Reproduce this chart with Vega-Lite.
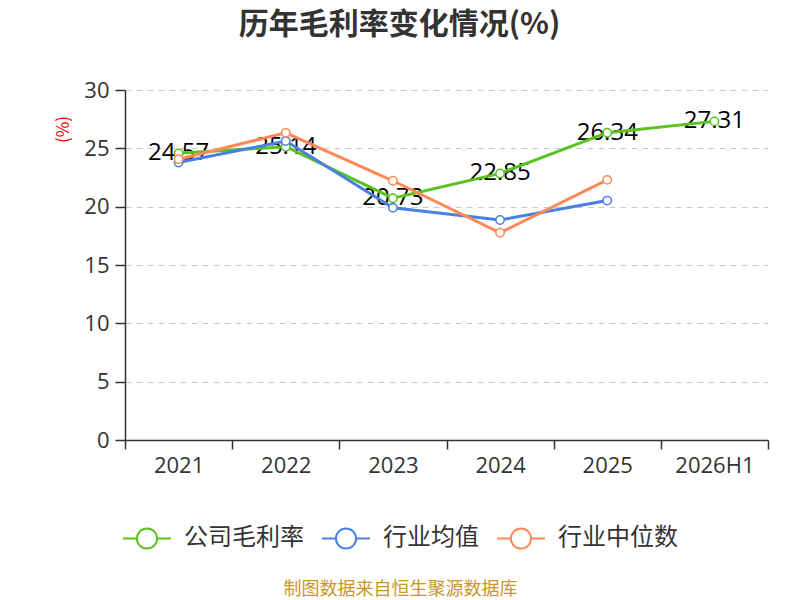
{
  "$schema": "https://vega.github.io/schema/vega-lite/v6.json",
  "width": 643,
  "height": 350,
  "autosize": {"type": "none"},
  "padding": {"left": 125, "top": 90, "right": 32, "bottom": 160},
  "background": "white",
  "title": {
    "text": "历年毛利率变化情况(%)",
    "font": "Noto Sans CJK SC",
    "fontSize": 30,
    "fontWeight": "bold",
    "color": "#333333",
    "anchor": "middle",
    "dx": -47,
    "offset": 39
  },
  "data": {
    "values": [
      {"year": "2021", "series": "公司毛利率", "value": 24.57},
      {"year": "2022", "series": "公司毛利率", "value": 25.14},
      {"year": "2023", "series": "公司毛利率", "value": 20.73},
      {"year": "2024", "series": "公司毛利率", "value": 22.85},
      {"year": "2025", "series": "公司毛利率", "value": 26.34},
      {"year": "2026H1", "series": "公司毛利率", "value": 27.31},
      {"year": "2021", "series": "行业均值", "value": 23.78},
      {"year": "2022", "series": "行业均值", "value": 25.62},
      {"year": "2023", "series": "行业均值", "value": 19.9},
      {"year": "2024", "series": "行业均值", "value": 18.86},
      {"year": "2025", "series": "行业均值", "value": 20.52},
      {"year": "2021", "series": "行业中位数", "value": 24.06},
      {"year": "2022", "series": "行业中位数", "value": 26.33},
      {"year": "2023", "series": "行业中位数", "value": 22.22},
      {"year": "2024", "series": "行业中位数", "value": 17.76},
      {"year": "2025", "series": "行业中位数", "value": 22.3}
    ]
  },
  "encoding": {
    "x": {
      "field": "year",
      "type": "ordinal",
      "scale": {"type": "band", "paddingInner": 0, "paddingOuter": 0},
      "axis": {
        "title": "制图数据来自恒生聚源数据库",
        "titleFont": "Noto Sans CJK SC",
        "titleFontSize": 18,
        "titleFontWeight": "normal",
        "titleColor": "#c8962a",
        "titleX": 275,
        "titleY": 149,
        "titleAlign": "center",
        "titleBaseline": "middle",
        "labelAngle": 0,
        "labelFont": "Open Sans",
        "labelFontSize": 22,
        "labelColor": "#333333",
        "labelPadding": 6,
        "tickBand": "extent",
        "tickSize": 9,
        "tickColor": "#333333",
        "tickWidth": 1.5,
        "domainColor": "#333333",
        "domainWidth": 1.5,
        "grid": false
      }
    },
    "y": {
      "field": "value",
      "type": "quantitative",
      "scale": {"domain": [0, 30]},
      "axis": {
        "title": "(%)",
        "titleFont": "Noto Sans CJK SC",
        "titleFontSize": 17,
        "titleFontWeight": "normal",
        "titleColor": "#ff0000",
        "titleX": -62,
        "titleY": 39,
        "titleAlign": "center",
        "titleBaseline": "middle",
        "values": [0, 5, 10, 15, 20, 25, 30],
        "labelFont": "Open Sans",
        "labelFontSize": 22,
        "labelColor": "#333333",
        "labelPadding": 6,
        "tickSize": 10,
        "tickColor": "#333333",
        "tickWidth": 1.5,
        "domainColor": "#333333",
        "domainWidth": 1.5,
        "grid": true,
        "gridColor": "#cccccc",
        "gridDash": [6, 5],
        "gridWidth": 1.2
      }
    },
    "color": {
      "field": "series",
      "type": "nominal",
      "scale": {
        "domain": ["公司毛利率", "行业均值", "行业中位数"],
        "range": ["#58c21f", "#4a7fe3", "#fd8a56"]
      },
      "legend": {
        "title": null,
        "orient": "none",
        "direction": "horizontal",
        "legendX": -3,
        "legendY": 423,
        "symbolType": "M-1,0L-0.42,0M0.42,0L1,0M-0.42,0A0.42,0.42,0,1,1,0.42,0A0.42,0.42,0,1,1,-0.42,0",
        "symbolSize": 2300,
        "symbolStrokeWidth": 2,
        "symbolFillColor": "white",
        "labelFont": "Noto Sans CJK SC",
        "labelFontSize": 24,
        "labelColor": "#333333",
        "labelOffset": 12,
        "columnPadding": 14,
        "labelLimit": 200
      }
    }
  },
  "layer": [
    {
      "transform": [{"filter": "datum.series == '公司毛利率'"}],
      "mark": {"type": "text", "font": "Open Sans", "fontSize": 24, "color": "#000000", "baseline": "middle"},
      "encoding": {
        "text": {"field": "value", "type": "quantitative", "format": ".2f"},
        "color": {"value": "#000000"}
      }
    },
    {
      "mark": {"type": "line", "strokeWidth": 3}
    },
    {
      "mark": {"type": "point", "filled": false, "fill": "white", "fillOpacity": 1, "opacity": 1, "size": 70, "strokeWidth": 1.5}
    }
  ],
  "config": {
    "view": {"stroke": null}
  }
}
